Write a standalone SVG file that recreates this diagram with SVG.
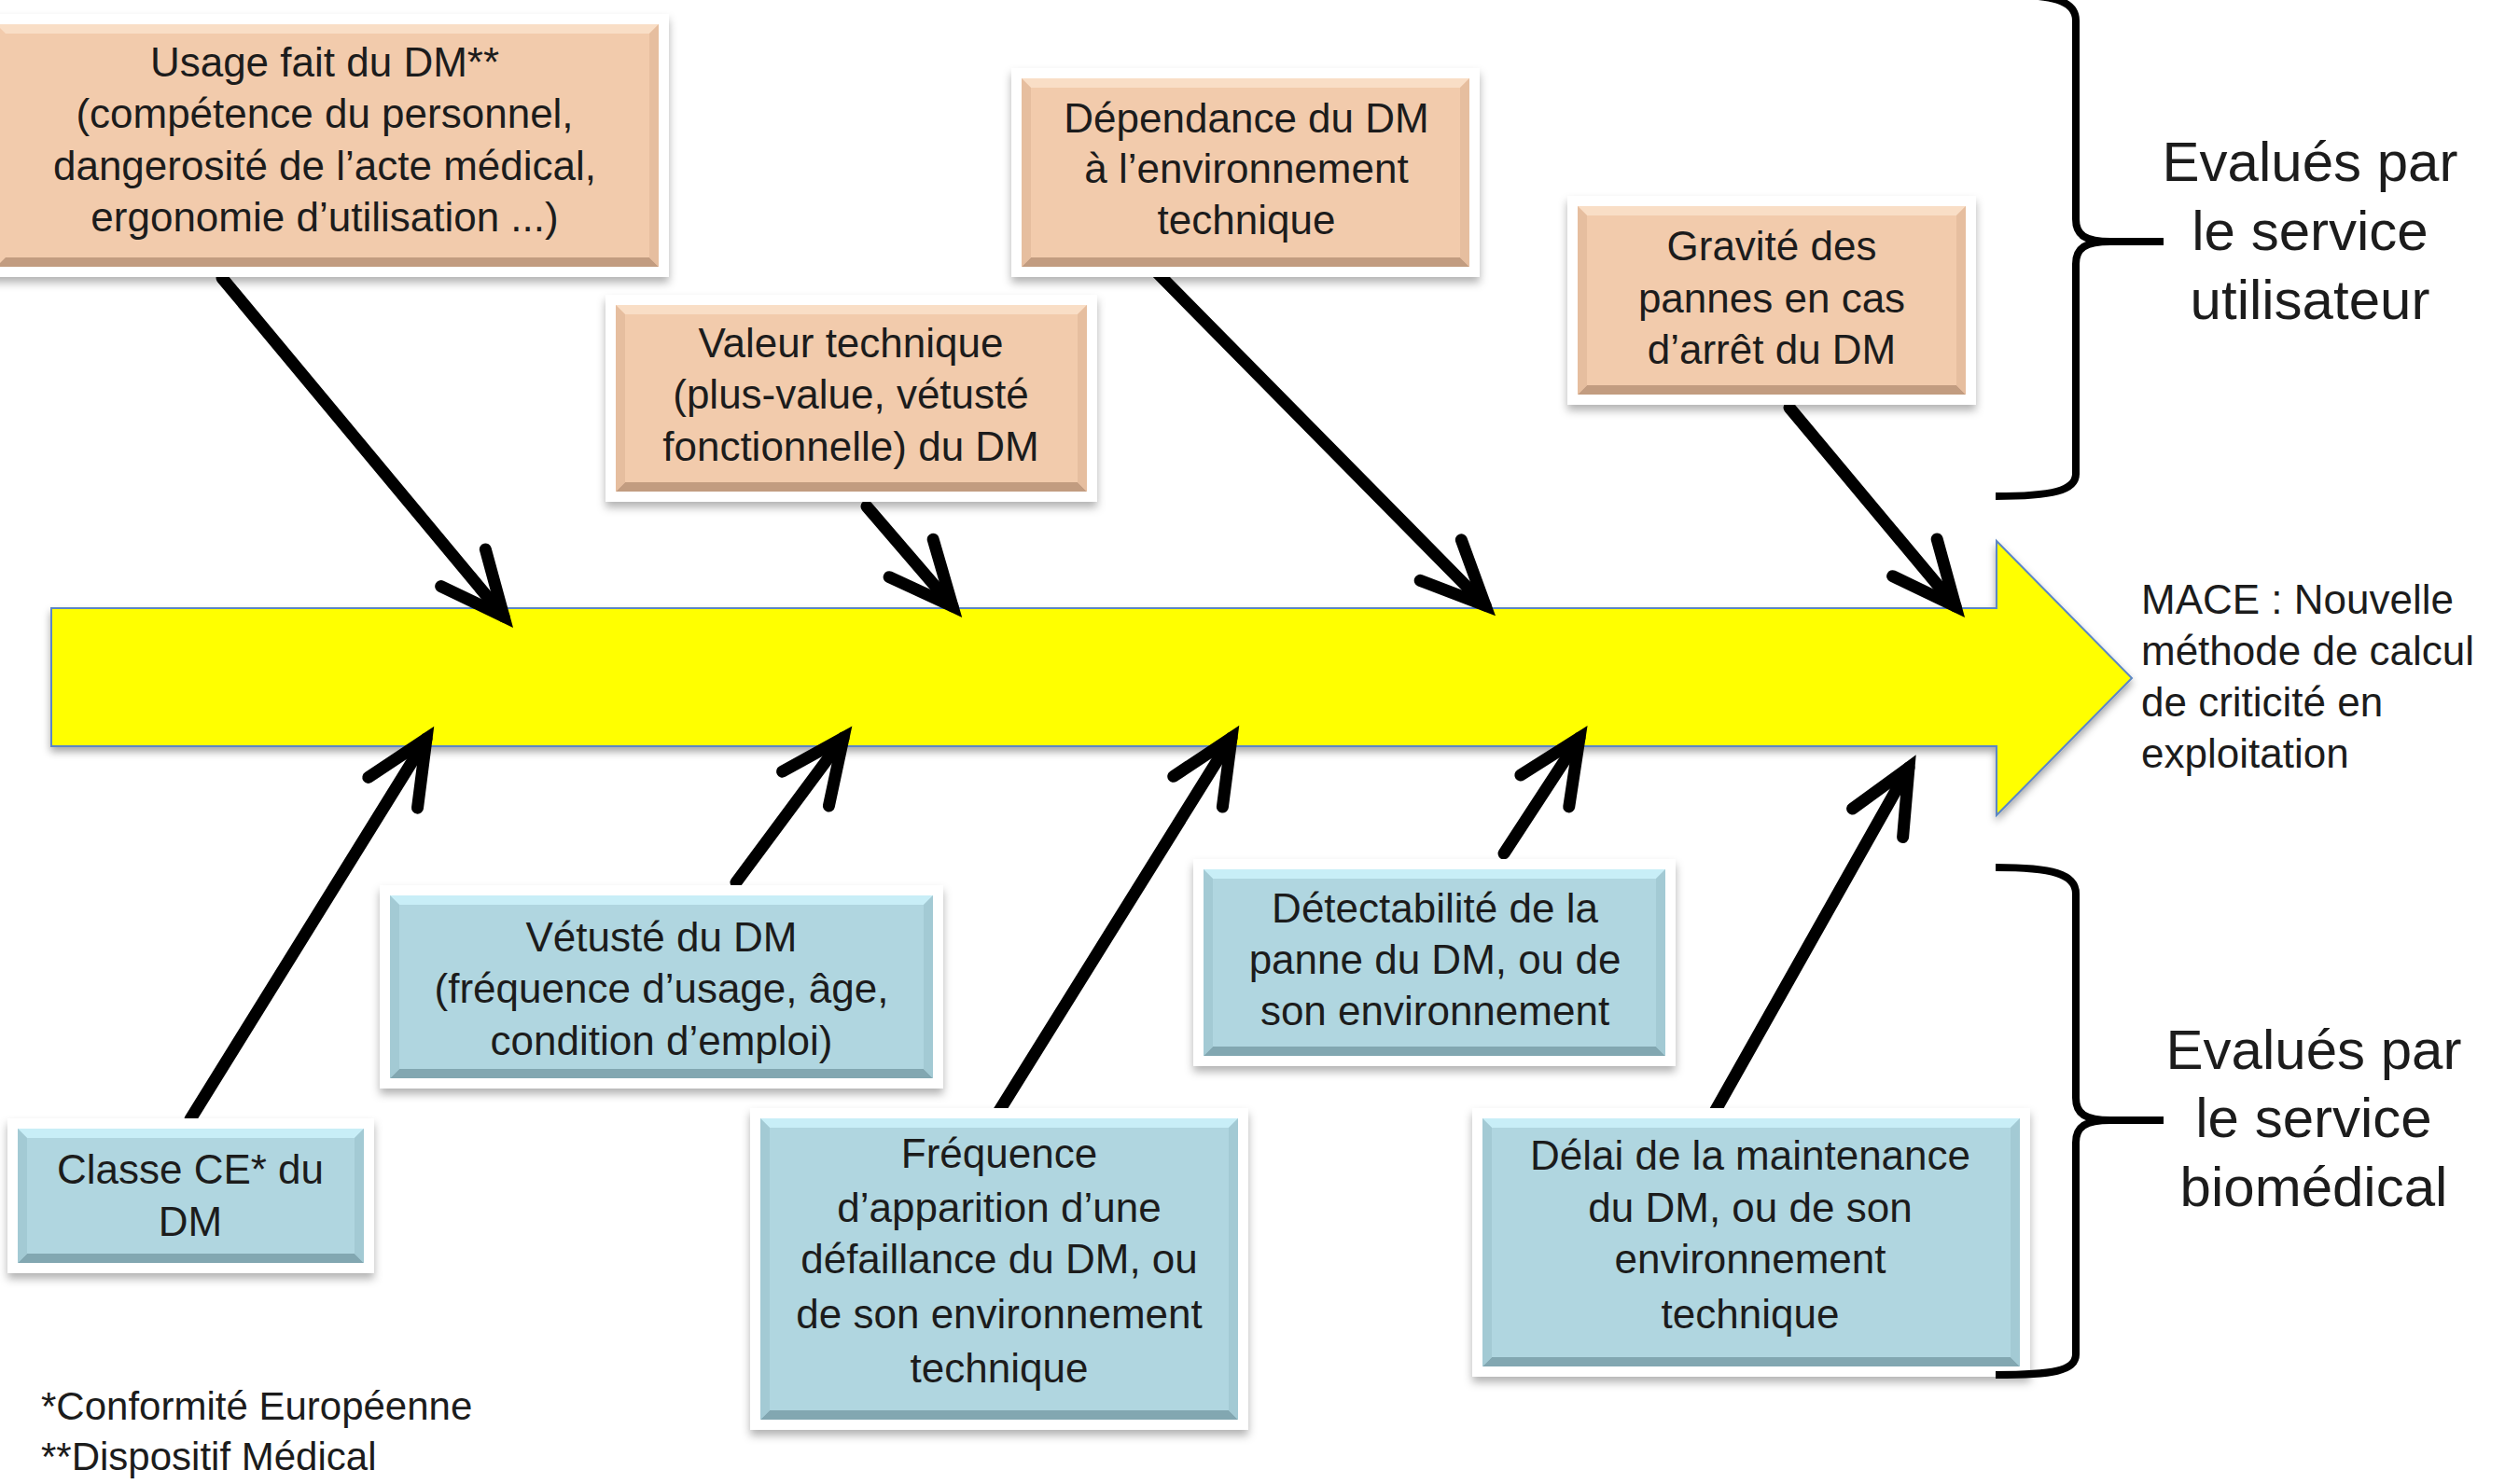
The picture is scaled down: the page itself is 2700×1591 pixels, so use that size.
<svg xmlns="http://www.w3.org/2000/svg" width="2700" height="1591" viewBox="0 0 2700 1591">
<style>
text{font-family:"Liberation Sans",Arial,sans-serif;fill:#1c1c1c;white-space:pre}
.t{font-size:44px;text-anchor:middle}
.big{font-size:60px;text-anchor:middle}
.mace{font-size:44px}
.foot{font-size:42px}
.frame{fill:#fff;filter:url(#sh)}
.o{fill:#F2CBAC}.ot{fill:#F9DEC6}.ob{fill:#C29C80}.os{fill:#E6BE9F}
.b{fill:#B0D6E0}.bt{fill:#C8EEF7}.bb{fill:#82A7B1}.bs{fill:#A3CAD4}
.con{stroke:#000;stroke-width:13;fill:none;stroke-linecap:round;marker-end:url(#ah)}
.brace{stroke:#000;stroke-width:8;fill:none;stroke-linecap:butt}
</style>
<defs>
<filter id="sh" x="-10%" y="-10%" width="120%" height="130%"><feDropShadow dx="0" dy="6" stdDeviation="5" flood-color="#000" flood-opacity="0.3"/></filter>
<filter id="sh2" x="-5%" y="-10%" width="110%" height="130%"><feDropShadow dx="0" dy="5" stdDeviation="4" flood-color="#000" flood-opacity="0.35"/></filter>
<marker id="ah" markerUnits="userSpaceOnUse" markerWidth="200" markerHeight="200" viewBox="-100 -100 200 200" refX="0" refY="0" orient="auto" overflow="visible">
<path d="M-68,-31 L0,0 L-68,31" fill="none" stroke="#000" stroke-width="13" stroke-linecap="round" stroke-linejoin="miter"/>
</marker>
</defs>
<rect width="2700" height="1591" fill="#fff"/>

<g id="mace">
<polygon points="55,652 2140,652 2140,580 2285,727 2140,874 2140,800 55,800" fill="#FFFF00" stroke="#5B86C5" stroke-width="2" filter="url(#sh2)"/>
<text class="mace" x="2295" y="658">MACE : Nouvelle</text>
<text class="mace" x="2295" y="713">méthode de calcul</text>
<text class="mace" x="2295" y="768">de criticité en</text>
<text class="mace" x="2295" y="823">exploitation</text>
</g>

<g id="connectors">
<path class="con" d="M238,298 L540,661"/>
<path class="con" d="M929,543 L1021,650"/>
<path class="con" d="M1239,291 L1592,649"/>
<path class="con" d="M1918,437 L2096,650"/>
<path class="con" d="M204,1200 L457,792"/>
<path class="con" d="M789,946 L904,791"/>
<path class="con" d="M1066,1199 L1320,791"/>
<path class="con" d="M1612,915 L1693,791"/>
<path class="con" d="M1834,1199 L2046,823"/>
</g>

<g id="boxA">
<rect class="frame" x="-15" y="15" width="732" height="282"/>
<rect class="o" x="-4" y="26" width="710" height="260"/>
<polygon class="ot" points="-4,26 706,26 696,36 6,36"/>
<polygon class="ob" points="-4,286 706,286 696,276 6,276"/>
<polygon class="os" points="706,26 696,36 696,276 706,286"/>
<text class="t" x="348" y="82">Usage fait du DM**</text>
<text class="t" x="348" y="137">(compétence du personnel,</text>
<text class="t" x="348" y="193">dangerosité de l’acte médical,</text>
<text class="t" x="348" y="248">ergonomie d’utilisation ...)</text>
</g>

<g id="boxB">
<rect class="frame" x="649" y="316" width="527" height="222"/>
<rect class="o" x="660" y="327" width="505" height="200"/>
<polygon class="ot" points="660,327 1165,327 1155,337 670,337"/>
<polygon class="ob" points="660,527 1165,527 1155,517 670,517"/>
<polygon class="os" points="660,327 670,337 670,517 660,527"/>
<polygon class="os" points="1165,327 1155,337 1155,517 1165,527"/>
<text class="t" x="912" y="383">Valeur technique</text>
<text class="t" x="912" y="438">(plus-value, vétusté</text>
<text class="t" x="912" y="494">fonctionnelle) du DM</text>
</g>

<g id="boxC">
<rect class="frame" x="1084" y="73" width="502" height="224"/>
<rect class="o" x="1095" y="84" width="480" height="202"/>
<polygon class="ot" points="1095,84 1575,84 1565,94 1105,94"/>
<polygon class="ob" points="1095,286 1575,286 1565,276 1105,276"/>
<polygon class="os" points="1095,84 1105,94 1105,276 1095,286"/>
<polygon class="os" points="1575,84 1565,94 1565,276 1575,286"/>
<text class="t" x="1336" y="142">Dépendance du DM</text>
<text class="t" x="1336" y="196">à l’environnement</text>
<text class="t" x="1336" y="251">technique</text>
</g>

<g id="boxD">
<rect class="frame" x="1680" y="210" width="438" height="224"/>
<rect class="o" x="1691" y="221" width="416" height="202"/>
<polygon class="ot" points="1691,221 2107,221 2097,231 1701,231"/>
<polygon class="ob" points="1691,423 2107,423 2097,413 1701,413"/>
<polygon class="os" points="1691,221 1701,231 1701,413 1691,423"/>
<polygon class="os" points="2107,221 2097,231 2097,413 2107,423"/>
<text class="t" x="1899" y="279">Gravité des</text>
<text class="t" x="1899" y="335">pannes en cas</text>
<text class="t" x="1899" y="390">d’arrêt du DM</text>
</g>

<g id="boxE">
<rect class="frame" x="8" y="1199" width="393" height="166"/>
<rect class="b" x="19" y="1210" width="371" height="144"/>
<polygon class="bt" points="19,1210 390,1210 380,1220 29,1220"/>
<polygon class="bb" points="19,1354 390,1354 380,1344 29,1344"/>
<polygon class="bs" points="19,1210 29,1220 29,1344 19,1354"/>
<polygon class="bs" points="390,1210 380,1220 380,1344 390,1354"/>
<text class="t" x="204" y="1269">Classe CE* du</text>
<text class="t" x="204" y="1325">DM</text>
</g>

<g id="boxF">
<rect class="frame" x="407" y="949" width="604" height="218"/>
<rect class="b" x="418" y="960" width="582" height="196"/>
<polygon class="bt" points="418,960 1000,960 990,970 428,970"/>
<polygon class="bb" points="418,1156 1000,1156 990,1146 428,1146"/>
<polygon class="bs" points="418,960 428,970 428,1146 418,1156"/>
<polygon class="bs" points="1000,960 990,970 990,1146 1000,1156"/>
<text class="t" x="709" y="1020">Vétusté du DM</text>
<text class="t" x="709" y="1075">(fréquence d’usage, âge,</text>
<text class="t" x="709" y="1131">condition d’emploi)</text>
</g>

<g id="boxG">
<rect class="frame" x="804" y="1188" width="534" height="345"/>
<rect class="b" x="815" y="1199" width="512" height="323"/>
<polygon class="bt" points="815,1199 1327,1199 1317,1209 825,1209"/>
<polygon class="bb" points="815,1522 1327,1522 1317,1512 825,1512"/>
<polygon class="bs" points="815,1199 825,1209 825,1512 815,1522"/>
<polygon class="bs" points="1327,1199 1317,1209 1317,1512 1327,1522"/>
<text class="t" x="1071" y="1252">Fréquence</text>
<text class="t" x="1071" y="1310">d’apparition d’une</text>
<text class="t" x="1071" y="1365">défaillance du DM, ou</text>
<text class="t" x="1071" y="1424">de son environnement</text>
<text class="t" x="1071" y="1482">technique</text>
</g>

<g id="boxH">
<rect class="frame" x="1279" y="921" width="517" height="222"/>
<rect class="b" x="1290" y="932" width="495" height="200"/>
<polygon class="bt" points="1290,932 1785,932 1775,942 1300,942"/>
<polygon class="bb" points="1290,1132 1785,1132 1775,1122 1300,1122"/>
<polygon class="bs" points="1290,932 1300,942 1300,1122 1290,1132"/>
<polygon class="bs" points="1785,932 1775,942 1775,1122 1785,1132"/>
<text class="t" x="1538" y="989">Détectabilité de la</text>
<text class="t" x="1538" y="1044">panne du DM, ou de</text>
<text class="t" x="1538" y="1099">son environnement</text>
</g>

<g id="boxI">
<rect class="frame" x="1578" y="1188" width="598" height="288"/>
<rect class="b" x="1589" y="1199" width="576" height="266"/>
<polygon class="bt" points="1589,1199 2165,1199 2155,1209 1599,1209"/>
<polygon class="bb" points="1589,1465 2165,1465 2155,1455 1599,1455"/>
<polygon class="bs" points="1589,1199 1599,1209 1599,1455 1589,1465"/>
<polygon class="bs" points="2165,1199 2155,1209 2155,1455 2165,1465"/>
<text class="t" x="1876" y="1254">Délai de la maintenance</text>
<text class="t" x="1876" y="1310">du DM, ou de son</text>
<text class="t" x="1876" y="1365">environnement</text>
<text class="t" x="1876" y="1424">technique</text>
</g>

<g id="braceTop">
<path class="brace" d="M2139,-6 C2200,-6 2225,0 2225,22 L2225,235 C2225,252 2235,259 2262,259 L2319,259 M2262,259 C2235,259 2225,266 2225,283 L2225,508 C2225,526 2200,532 2139,532"/>
<text class="big" x="2476" y="194">Evalués par</text>
<text class="big" x="2476" y="268">le service</text>
<text class="big" x="2476" y="342">utilisateur</text>
</g>

<g id="braceBottom">
<path class="brace" d="M2139,930 C2200,930 2225,937 2225,958 L2225,1177 C2225,1194 2235,1201 2262,1201 L2319,1201 M2262,1201 C2235,1201 2225,1208 2225,1225 L2225,1452 C2225,1470 2200,1474 2139,1474"/>
<text class="big" x="2480" y="1146">Evalués par</text>
<text class="big" x="2480" y="1219">le service</text>
<text class="big" x="2480" y="1293">biomédical</text>
</g>

<g id="notes">
<text class="foot" x="44" y="1522">*Conformité Européenne</text>
<text class="foot" x="44" y="1576">**Dispositif Médical</text>
</g>
</svg>
